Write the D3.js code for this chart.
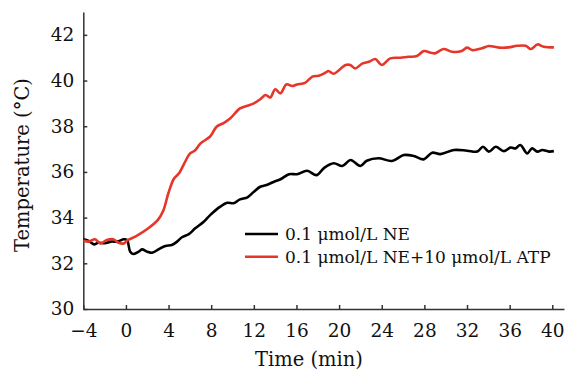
<!DOCTYPE html>
<html>
<head>
<meta charset="utf-8">
<script src="https://cdn.jsdelivr.net/npm/d3@7"></script>
<style>
  body { margin: 0; background: #fff; }
  text { font-family: "DejaVu Serif", serif; fill: #111; }
</style>
</head>
<body>
<div id="chart"></div>
<script>
// time (min) and temperature readings, NE only
var neTime = [-4, -3.5, -3.0, -2.6, -2.0, -1.4, -0.8, -0.2, 0.1, 0.4, 0.7, 1.2, 1.5, 2.0, 2.45, 3.06, 3.7, 4.3, 4.8, 5.26, 5.9, 6.5, 7.3, 7.9, 8.85, 9.5, 10.1, 10.7, 11.4, 12.0, 12.6, 13.2, 13.9, 14.5, 15.3, 16.05, 17.0, 17.9, 18.6, 19.5, 20.3, 21.06, 22.0, 22.6, 23.7, 24.97, 26.07, 27.0, 27.94, 28.73, 29.5, 30.76, 32.0, 32.96, 33.5, 34.05, 34.7, 35.45, 36.1, 36.55, 37.0, 37.65, 38.1, 38.6, 39.06, 39.7, 40.15];
var neTemp = [33.05, 32.98, 32.83, 32.9, 32.88, 32.95, 32.95, 33.05, 33.02, 32.51, 32.41, 32.51, 32.61, 32.51, 32.46, 32.61, 32.76, 32.8, 32.95, 33.14, 33.28, 33.53, 33.82, 34.11, 34.48, 34.65, 34.63, 34.8, 34.89, 35.13, 35.35, 35.43, 35.57, 35.68, 35.9, 35.9, 36.05, 35.86, 36.18, 36.38, 36.26, 36.52, 36.26, 36.49, 36.6, 36.48, 36.74, 36.7, 36.55, 36.84, 36.78, 36.96, 36.93, 36.89, 37.1, 36.89, 37.1, 36.91, 37.07, 37.03, 37.18, 36.81, 37.03, 36.89, 36.96, 36.89, 36.91];

// NE + ATP
var atpTime = [-4, -3.5, -2.9, -2.4, -1.8, -1.2, -0.7, -0.2, 0.1, 1.0, 2.0, 3.0, 3.5, 4.0, 4.5, 5.0, 5.5, 6.0, 6.5, 7.0, 7.9, 8.5, 9.2, 9.8, 10.7, 11.4, 12.0, 12.6, 13.1, 13.55, 14.0, 14.5, 15.05, 15.6, 16.05, 16.8, 17.5, 18.1, 18.7, 19.0, 19.5, 20.6, 21.06, 21.5, 22.2, 22.8, 23.4, 24.0, 24.8, 25.75, 26.5, 27.3, 27.95, 28.6, 29.0, 29.8, 30.6, 31.5, 32.0, 32.5, 33.4, 34.05, 35.0, 35.9, 36.7, 37.5, 38.0, 38.6, 39.2, 40.15];
var atpTemp = [33.0, 32.95, 33.05, 32.87, 33.02, 33.05, 32.9, 32.87, 32.99, 33.2, 33.5, 33.9, 34.3, 35.1, 35.7, 35.95, 36.4, 36.8, 36.95, 37.25, 37.55, 37.98, 38.15, 38.35, 38.78, 38.9, 39.0, 39.18, 39.37, 39.26, 39.62, 39.44, 39.83, 39.76, 39.83, 39.9, 40.17, 40.21, 40.34, 40.42, 40.3, 40.68, 40.68, 40.53, 40.75, 40.82, 40.94, 40.68, 40.97, 41.0, 41.04, 41.07, 41.29, 41.22, 41.19, 41.38, 41.26, 41.29, 41.44, 41.33, 41.41, 41.51, 41.44, 41.45, 41.52, 41.52, 41.38, 41.58, 41.48, 41.45];

var seriesNames = ["0.1 μmol/L NE", "0.1 μmol/L NE+10 μmol/L ATP"];
var seriesColors = ["#000000", "#e6362a"];
var xTicks = [-4, 0, 4, 8, 12, 16, 20, 24, 28, 32, 36, 40];
var yTicks = [30, 32, 34, 36, 38, 40, 42];

var width = 565,
  height = 373;

var svg = d3
  .select("#chart")
  .append("svg")
  .attr("width", width)
  .attr("height", height);

var x = d3.scaleLinear().domain([-4, 41.1]).range([83.3, 564]);
var y = d3.scaleLinear().domain([30, 43]).range([309, 12]);

//axes with ticks pointing inward
svg
  .append("g")
  .attr("class", "x-axis")
  .attr("transform", "translate(0,309)")
  .call(d3.axisBottom(x).tickValues(xTicks).tickSizeInner(-4).tickSizeOuter(0).tickPadding(15));

svg
  .append("g")
  .attr("class", "y-axis")
  .attr("transform", "translate(83.3,0)")
  .call(d3.axisLeft(y).tickValues(yTicks).tickSizeInner(-4).tickSizeOuter(0).tickPadding(9));

svg.selectAll(".x-axis text, .y-axis text")
  .style("font-family", "DejaVu Serif")
  .style("font-size", "18.5px")
  .attr("fill", "#111");
svg.selectAll(".domain, .tick line").attr("stroke", "#333").attr("stroke-width", 1.5);

//axis titles
svg
  .append("text")
  .attr("x", 309)
  .attr("y", 366)
  .attr("text-anchor", "middle")
  .style("font-size", "19.5px")
  .text("Time (min)");

svg
  .append("text")
  .attr("transform", "translate(29,165) rotate(-90)")
  .attr("text-anchor", "middle")
  .style("font-size", "19.5px")
  .text("Temperature (°C)");

//the two curves
var series = [
  { times: neTime, temps: neTemp },
  { times: atpTime, temps: atpTemp }
];

var line = d3
  .line()
  .x(function(d) { return x(d[0]); })
  .y(function(d) { return y(d[1]); })
  .curve(d3.curveCatmullRom.alpha(0.5));

series.forEach(function(s, i) {
  var pts = s.times.map(function(t, j) { return [t, s.temps[j]]; });
  svg
    .append("path")
    .datum(pts)
    .attr("fill", "none")
    .attr("stroke", seriesColors[i])
    .attr("stroke-width", 2.6)
    .attr("stroke-linejoin", "round")
    .attr("d", line);
});

//legend
var legend = svg.append("g").attr("transform", "translate(245,234)");
seriesNames.forEach(function(name, i) {
  legend
    .append("line")
    .attr("x1", 0)
    .attr("x2", 33)
    .attr("y1", i * 22.7)
    .attr("y2", i * 22.7)
    .attr("stroke", seriesColors[i])
    .attr("stroke-width", 2.6);
  legend
    .append("text")
    .attr("x", 40)
    .attr("y", i * 22.7)
    .attr("dy", "0.35em")
    .style("font-size", "17px")
    .text(name);
});
</script>
</body>
</html>
